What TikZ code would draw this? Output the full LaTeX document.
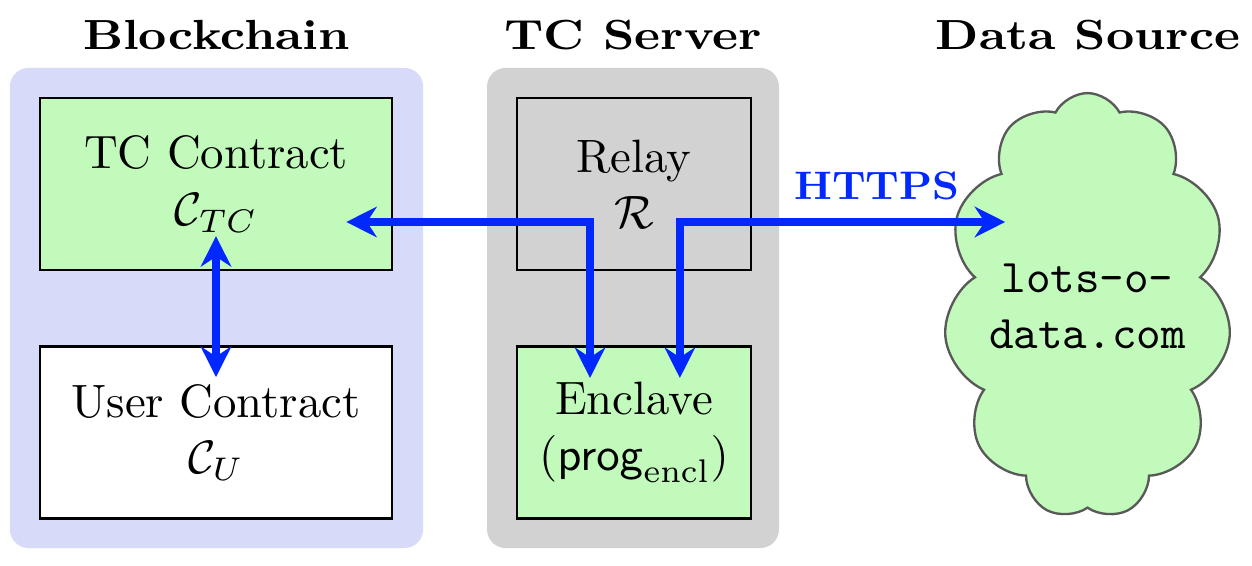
\documentclass[tikz,border=0pt]{standalone}
\usepackage{amsmath}
\usepackage{amsfonts}
\usepackage{graphicx}
\usepackage{tikz}
\usetikzlibrary{shapes.symbols,arrows.meta}
\definecolor{enclgreen}{RGB}{194,250,188}
\definecolor{chainbg}{RGB}{216,218,250}
\definecolor{serverbg}{RGB}{210,210,210}
\definecolor{linkblue}{RGB}{0,40,255}
\tikzstyle{box} = [rectangle, draw, line width=0.5pt, minimum width=75.2pt,
    minimum height=36.8pt, align=center]
\tikzstyle{zone} = [rectangle, rounded corners=4pt, inner sep=0pt,
    minimum height=102.6pt]
\tikzstyle{title} = [anchor=base, font=\bfseries]
\tikzstyle{link} = [{Stealth[length=6.5pt,width=6.5pt]}-{Stealth[length=6.5pt,width=6.5pt]},
    line width=1.7pt, draw=linkblue]

\begin{document}
\begin{tikzpicture}[x=0.2137pt,y=-0.2137pt]
  \useasboundingbox (0,0) rectangle (1252,566);
  % the two groups behind the boxes
  \node [zone, fill=chainbg, minimum width=88.3pt] (chain) at (216.5,308) {};
  \node [zone, fill=serverbg, minimum width=62.4pt] (server) at (633,308) {};
  \node [title] (chaintitle) at (216.5,50) {\scalebox{1.05}[0.9]{Blockchain}};
  \node [title] (servertitle) at (633,50) {\scalebox{1.05}[0.9]{TC Server}};
  \node [title] (sourcetitle) at (1088,50) {\scalebox{1.05}[0.9]{Data Source}};

  \node [box, fill=enclgreen] (tc) at (216,184) {TC Contract\\$\mathcal{C}_{TC}$};
  \node [box, fill=white] (uc) at (216,432.5) {User Contract\\$\mathcal{C}_U$};
  \node [box, minimum width=50pt] (relay) at (634,184) {Relay\\$\mathcal{R}$};
  \node [box, fill=enclgreen, minimum width=50pt] (encl) at (634,432.5)
    {Enclave\\$(\mathsf{prog}_{\mathrm{encl}})$};
  \node [cloud, cloud puffs=11, cloud puff arc=125, cloud ignores aspect,
    draw=black!65, line width=0.5pt, fill=enclgreen, inner sep=0pt,
    minimum width=59pt, minimum height=91pt, align=center, font=\ttfamily]
    (source) at (1087.5,306) {lots-o-\\data.com};

  \coordinate (lane) at (0,222);
  \draw [link] ([yshift=7.5pt]tc.south) -- ([yshift=-6.8pt]uc.north);
  \draw [link] ([xshift=-10pt]tc.east |- lane) -| ([xshift=-9.4pt,yshift=-7pt]encl.north);
  \draw [link] ([xshift=9.8pt,yshift=-7pt]encl.north) |- ([xshift=12pt]source.west |- lane);
  \node [font=\bfseries, text=linkblue] (https) at (877,186) {\scalebox{0.9}[0.85]{HTTPS}};
\end{tikzpicture}
\end{document}
